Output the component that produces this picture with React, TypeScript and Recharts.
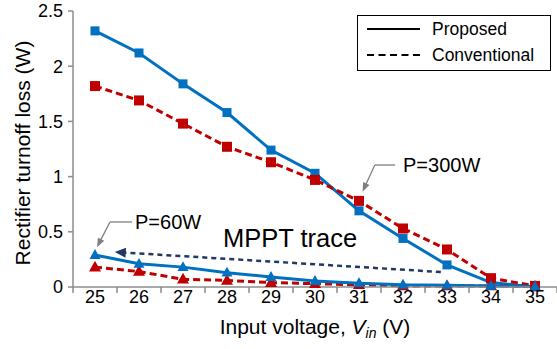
import React from "react";
import {
  LineChart,
  Line,
  XAxis,
  YAxis,
  ReferenceLine,
  ReferenceDot,
  Legend,
} from "recharts";

const voltages = [25, 26, 27, 28, 29, 30, 31, 32, 33, 34, 35];
const proposed300 = [2.32, 2.12, 1.84, 1.58, 1.24, 1.03, 0.69, 0.44, 0.2, 0.04, 0.0];
const conventional300 = [1.82, 1.69, 1.48, 1.27, 1.13, 0.97, 0.78, 0.53, 0.34, 0.08, 0.01];
const proposed60 = [0.29, 0.21, 0.18, 0.13, 0.09, 0.055, 0.035, 0.02, 0.015, 0.01, 0.005];
const conventional60 = [0.18, 0.14, 0.07, 0.06, 0.04, 0.03, 0.02, 0.01, 0.01, 0.01, 0.005];
const yTicks = [0, 0.5, 1, 1.5, 2, 2.5];
const xTicks = [24.5, 25, 25.5, 26, 26.5, 27, 27.5, 28, 28.5, 29, 29.5, 30, 30.5, 31, 31.5, 32, 32.5, 33, 33.5, 34, 34.5, 35, 35.5];

const data = voltages.map((v, i) => ({
  v,
  p300: proposed300[i],
  c300: conventional300[i],
  p60: proposed60[i],
  c60: conventional60[i],
}));

const FONT = "'Liberation Sans', Arial, sans-serif";
const BLUE = "#0070C0";
const RED = "#C00000";
const GRAY = "#7F7F7F";
const NAVY = "#1F3864";

const squareDot = (color: string, size: number) => (p: any) => {
  if (p.cx == null || p.cy == null) return <g key={p.key} />;
  return (
    <rect
      key={p.key}
      x={p.cx - size / 2}
      y={p.cy - size / 2}
      width={size}
      height={size}
      fill={color}
    />
  );
};

const triDot = (color: string, size: number) => (p: any) => {
  if (p.cx == null || p.cy == null) return <g key={p.key} />;
  const h = size * 0.9;
  const pts = `${p.cx},${p.cy - h * 0.6} ${p.cx - size / 2},${p.cy + h * 0.4} ${p.cx + size / 2},${p.cy + h * 0.4}`;
  return <polygon key={p.key} points={pts} fill={color} />;
};

const arrowShape =
  (color: string, width: number, dash: string | undefined, head: boolean, headLen: number, headW: number) =>
  (p: any) => {
    const { x1, y1, x2, y2 } = p;
    if ([x1, y1, x2, y2].some((n) => n == null || isNaN(n))) return <g />;
    const ang = Math.atan2(y2 - y1, x2 - x1);
    const c = Math.cos(ang);
    const s = Math.sin(ang);
    const bx = x2 - headLen * c;
    const by = y2 - headLen * s;
    const px = -s * (headW / 2);
    const py = c * (headW / 2);
    return (
      <g>
        <line
          x1={x1}
          y1={y1}
          x2={head ? bx + headLen * 0.2 * c : x2}
          y2={head ? by + headLen * 0.2 * s : y2}
          stroke={color}
          strokeWidth={width}
          strokeDasharray={dash}
        />
        {head && (
          <polygon
            points={`${x2},${y2} ${bx + px},${by + py} ${bx - px},${by - py}`}
            fill={color}
          />
        )}
      </g>
    );
  };

const textShape = (text: string, size: number) => (p: any) => {
  if (p.cx == null || p.cy == null) return <g />;
  return (
    <text
      x={p.cx}
      y={p.cy}
      dy="0.36em"
      fontSize={size}
      fontFamily={FONT}
      fill="#000"
    >
      {text}
    </text>
  );
};

const XTick = (props: any) => {
  const { x, y, payload } = props;
  const v = payload.value;
  if (Number.isInteger(v)) {
    return (
      <text x={x} y={y + 16} textAnchor="middle" fontSize={18} fontFamily={FONT} fill="#000">
        {v}
      </text>
    );
  }
  return <line x1={x} y1={y} x2={x} y2={y + 6} stroke="#8C8C8C" strokeWidth={1.5} />;
};

const LegendBox = () => (
  <svg width={194} height={56} style={{ display: "block" }}>
    <rect x={0.5} y={0.5} width={193} height={55} fill="#fff" stroke="#000" strokeWidth={1} />
    <line x1={10} y1={14} x2={63} y2={14} stroke="#000" strokeWidth={2} />
    <text x={75} y={14} dy="0.36em" fontSize={17.5} fontFamily={FONT} fill="#000">
      Proposed
    </text>
    <line x1={10} y1={40} x2={63} y2={40} stroke="#000" strokeWidth={2} strokeDasharray="7 4.5" />
    <text x={75} y={40} dy="0.36em" fontSize={17.5} fontFamily={FONT} fill="#000">
      Conventional
    </text>
  </svg>
);

export default function App() {
  return (
    <div style={{ position: "absolute", left: 0, top: 0, width: 557, height: 349, background: "#fff" }}>
      <LineChart
        width={557}
        height={349}
        data={data}
        margin={{ top: 11, right: 0, bottom: 0, left: 0 }}
      >
        <XAxis
          dataKey="v"
          type="number"
          domain={[24.5, 35.5]}
          ticks={xTicks}
          interval={0}
          tickSize={0}
          tickMargin={0}
          tickLine={false}
          tick={<XTick />}
          height={62}
          stroke="#8C8C8C"
          strokeWidth={1.5}
          label={{
            content: (props: any) => {
              const vb = props.viewBox || {};
              const cx = vb.x + vb.width / 2;
              return (
                <text x={cx} y={vb.y + 47} textAnchor="middle" fontSize={21} fontFamily={FONT} fill="#000">
                  Input voltage,{" "}
                  <tspan fontStyle="italic">V</tspan>
                  <tspan fontStyle="italic" fontSize={14} dy={4}>
                    in
                  </tspan>
                  <tspan dy={-4}> (V)</tspan>
                </text>
              );
            },
          }}
        />
        <YAxis
          type="number"
          domain={[0, 2.5]}
          ticks={yTicks}
          width={73}
          tickSize={5}
          tickMargin={5}
          stroke="#8C8C8C"
          strokeWidth={1.5}
          tick={{ fill: "#000", fontSize: 18, fontFamily: FONT }}
          label={{
            content: (props: any) => {
              const vb = props.viewBox || {};
              const cx = vb.x + 22;
              const cy = vb.y + vb.height / 2 + 4;
              return (
                <text
                  x={cx}
                  y={cy}
                  transform={`rotate(-90, ${cx}, ${cy})`}
                  textAnchor="middle"
                  dominantBaseline="central"
                  fontSize={21}
                  fontFamily={FONT}
                  fill="#000"
                >
                  Rectifier turnoff loss (W)
                </text>
              );
            },
          }}
        />
        <Legend
          layout="horizontal"
          verticalAlign="middle"
          align="center"
          content={() => <LegendBox />}
          wrapperStyle={{ position: "absolute", left: 357, top: 15, width: 194, height: 56 }}
        />
        <Line
          dataKey="p300"
          stroke={BLUE}
          strokeWidth={3}
          dot={squareDot(BLUE, 9)}
          activeDot={false}
          isAnimationActive={false}
        />
        <Line
          dataKey="c300"
          stroke={RED}
          strokeWidth={3}
          strokeDasharray="7 4"
          dot={squareDot(RED, 10)}
          activeDot={false}
          isAnimationActive={false}
        />
        <Line
          dataKey="c60"
          stroke={RED}
          strokeWidth={3}
          strokeDasharray="7 4"
          dot={triDot(RED, 12)}
          activeDot={false}
          isAnimationActive={false}
        />
        <Line
          dataKey="p60"
          stroke={BLUE}
          strokeWidth={3}
          dot={triDot(BLUE, 11)}
          activeDot={false}
          isAnimationActive={false}
        />
        {/* MPPT trace arrow */}
        <ReferenceLine
          segment={[
            { x: 32.86, y: 0.136 },
            { x: 25.45, y: 0.317 },
          ]}
          ifOverflow="visible"
          shape={arrowShape(NAVY, 2.5, "5 4", true, 11, 10)}
        />
        {/* P=300W leader */}
        <ReferenceLine
          segment={[
            { x: 31.82, y: 1.105 },
            { x: 31.36, y: 1.105 },
          ]}
          ifOverflow="visible"
          shape={arrowShape(GRAY, 1.3, undefined, false, 0, 0)}
        />
        <ReferenceLine
          segment={[
            { x: 31.36, y: 1.105 },
            { x: 31.08, y: 0.863 },
          ]}
          ifOverflow="visible"
          shape={arrowShape(GRAY, 1.3, undefined, true, 9, 7)}
        />
        {/* P=60W leader */}
        <ReferenceLine
          segment={[
            { x: 25.84, y: 0.589 },
            { x: 25.34, y: 0.589 },
          ]}
          ifOverflow="visible"
          shape={arrowShape(GRAY, 1.3, undefined, false, 0, 0)}
        />
        <ReferenceLine
          segment={[
            { x: 25.34, y: 0.589 },
            { x: 25.045, y: 0.36 },
          ]}
          ifOverflow="visible"
          shape={arrowShape(GRAY, 1.3, undefined, true, 9, 7)}
        />
        <ReferenceDot x={32.0} y={1.105} r={0} ifOverflow="visible" shape={textShape("P=300W", 20)} />
        <ReferenceDot x={25.91} y={0.589} r={0} ifOverflow="visible" shape={textShape("P=60W", 20)} />
        <ReferenceDot x={27.91} y={0.444} r={0} ifOverflow="visible" shape={textShape("MPPT trace", 25.5)} />
      </LineChart>
    </div>
  );
}
